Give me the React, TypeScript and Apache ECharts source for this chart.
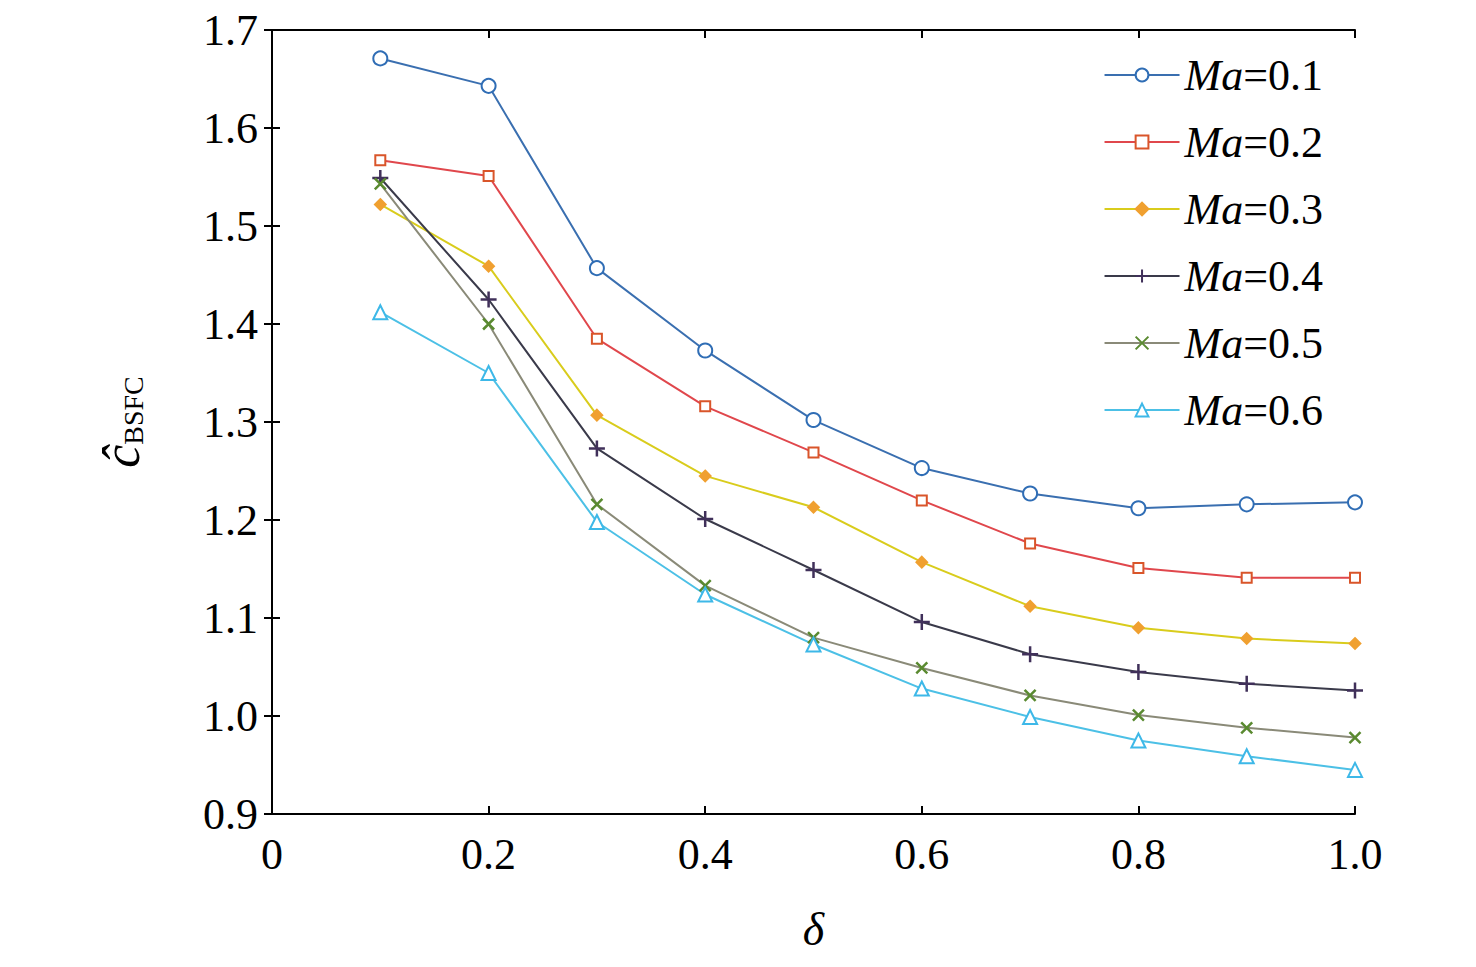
import { useEffect, useRef } from 'react';
import * as echarts from 'echarts';

// x values (delta)
const deltas = [0.1, 0.2, 0.3, 0.4, 0.5, 0.6, 0.7, 0.8, 0.9, 1.0];
const seriesNames = ['0.1', '0.2', '0.3', '0.4', '0.5', '0.6'];
const ma01 = [1.671, 1.643, 1.457, 1.373, 1.302, 1.253, 1.227, 1.212, 1.216, 1.218];
const ma02 = [1.567, 1.551, 1.385, 1.316, 1.269, 1.220, 1.176, 1.151, 1.141, 1.141];
const ma03 = [1.522, 1.459, 1.307, 1.245, 1.213, 1.157, 1.112, 1.090, 1.079, 1.074];
const ma04 = [1.549, 1.425, 1.273, 1.201, 1.149, 1.096, 1.063, 1.045, 1.033, 1.026];
const ma05 = [1.543, 1.400, 1.216, 1.133, 1.080, 1.049, 1.021, 1.001, 0.988, 0.978];
const ma06 = [1.412, 1.350, 1.198, 1.124, 1.073, 1.028, 0.999, 0.975, 0.959, 0.945];
const xTicks = ['0', '0.2', '0.4', '0.6', '0.8', '1.0'];

const FONT = '"Liberation Serif", "Times New Roman", serif';
const PLUS = 'path://M5,0L5,10M0,5L10,5';
const CROSS = 'path://M0,0L10,10M10,0L0,10';

const styles = [
  { line: '#3a6fb0', marker: '#2f6db5', symbol: 'emptyCircle', size: 14 },
  { line: '#e0474c', marker: '#d9552a', symbol: 'emptyRect', size: 10 },
  { line: '#d9cc1c', marker: '#f0a030', symbol: 'diamond', size: 10 },
  { line: '#3a3a4a', marker: '#40305a', symbol: PLUS, size: 16 },
  { line: '#8a8a78', marker: '#5a8a30', symbol: CROSS, size: 11 },
  { line: '#4cc0e6', marker: '#3db8e8', symbol: 'emptyTriangle', size: 14 },
];

export default function App() {
  const chartRef = useRef<HTMLDivElement>(null);

  useEffect(() => {
    if (!chartRef.current) return;
    const chart = echarts.init(chartRef.current, null, { renderer: 'svg' });
    const data = [ma01, ma02, ma03, ma04, ma05, ma06];
    const axisLine = { show: true, lineStyle: { color: '#000', width: 2 } };
    const tick = { show: true, inside: true, length: 8, lineStyle: { color: '#000', width: 2 } };
    chart.setOption({
      animation: false,
      backgroundColor: '#fff',
      textStyle: { fontFamily: FONT },
      grid: { left: 264, right: 113, top: 21, bottom: 145 },
      legend: {
        orient: 'vertical',
        right: 140,
        top: 40,
        itemWidth: 75,
        itemHeight: 16,
        itemGap: 23,
        data: seriesNames.map((n) => 'Ma=' + n),
        formatter: (name: string) => '{i|Ma}{n|' + name.slice(2) + '}',
        textStyle: {
          rich: {
            i: { fontFamily: FONT, fontSize: 44, fontStyle: 'italic', color: '#000' },
            n: { fontFamily: FONT, fontSize: 44, color: '#000' },
          },
        },
      },
      xAxis: [
        {
          type: 'value', min: 0, max: 1, interval: 0.2,
          axisLine, axisTick: tick, splitLine: { show: false },
          axisLabel: {
            fontFamily: FONT, fontSize: 44, color: '#000', margin: 18,
            formatter: (v: number) => xTicks[Math.round(v * 5)],
          },
          name: 'δ', nameLocation: 'middle', nameGap: 92,
          nameTextStyle: { fontFamily: FONT, fontSize: 46, fontStyle: 'italic', color: '#000' },
        },
        {
          type: 'value', min: 0, max: 1, interval: 0.2, position: 'top',
          axisLine, axisTick: tick, axisLabel: { show: false }, splitLine: { show: false },
        },
      ],
      yAxis: [
        {
          type: 'value', min: 0.9, max: 1.7, interval: 0.1,
          axisLine, axisTick: tick, splitLine: { show: false },
          axisLabel: {
            fontFamily: FONT, fontSize: 44, color: '#000', margin: 14,
            formatter: (v: number) => v.toFixed(1),
          },
          name: '{c|ĉ}{s|BSFC}', nameLocation: 'middle', nameGap: 125, nameRotate: 90,
          nameTextStyle: {
            rich: {
              c: { fontFamily: FONT, fontSize: 52, fontStyle: 'italic', color: '#000' },
              s: { fontFamily: FONT, fontSize: 28, color: '#000', verticalAlign: 'bottom', padding: [16, 0, 0, 0] },
            },
          },
        },
        {
          type: 'value', min: 0.9, max: 1.7, interval: 0.1, position: 'right',
          axisLine, axisTick: tick, axisLabel: { show: false }, splitLine: { show: false },
        },
      ],
      series: data.map((vals, i) => ({
        name: 'Ma=' + seriesNames[i],
        type: 'line',
        data: deltas.map((d, j) => [d, vals[j]]),
        symbol: styles[i].symbol,
        symbolSize: styles[i].size,
        lineStyle: { color: styles[i].line, width: 2 },
        itemStyle: {
          color: styles[i].marker,
          borderColor: styles[i].marker,
          borderWidth: 2.5,
        },
        clip: false,
      })),
    });
    return () => chart.dispose();
  }, []);

  return <div ref={chartRef} style={{ width: 1460, height: 951 }} />;
}
